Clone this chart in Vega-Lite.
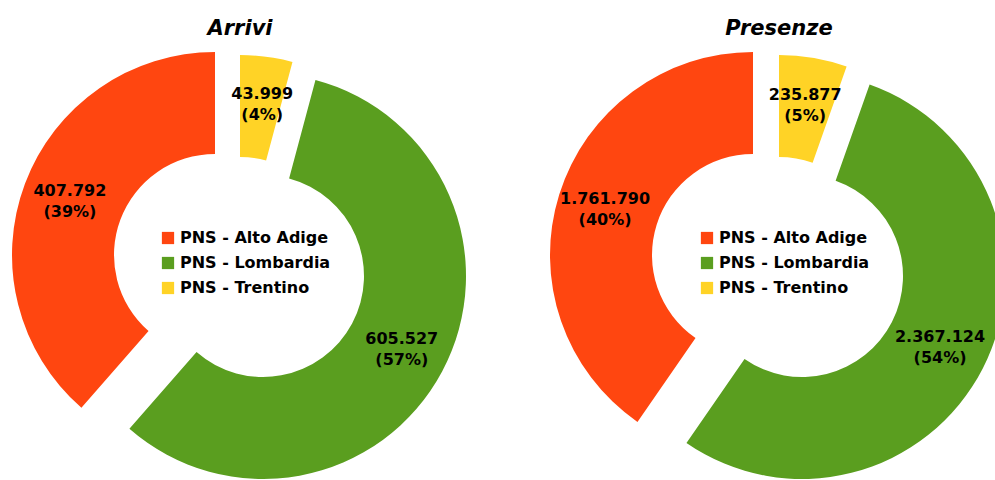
{
  "$schema": "https://vega.github.io/schema/vega-lite/v6.json",
  "padding": {"left": 12, "top": 18, "right": 0, "bottom": 0},
  "autosize": {"type": "pad"},
  "bounds": "flush",
  "spacing": 109,
  "background": "#ffffff",
  "datasets": {
    "d": [
      {"chart": "Arrivi", "region": "PNS - Alto Adige", "value": 407792},
      {"chart": "Arrivi", "region": "PNS - Lombardia", "value": 605527},
      {"chart": "Arrivi", "region": "PNS - Trentino", "value": 43999},
      {"chart": "Presenze", "region": "PNS - Alto Adige", "value": 1761790},
      {"chart": "Presenze", "region": "PNS - Lombardia", "value": 2367124},
      {"chart": "Presenze", "region": "PNS - Trentino", "value": 235877}
    ]
  },
  "config": {
    "locale": {"number": {"decimal": ",", "thousands": ".", "grouping": [3], "currency": ["", " €"]}},
    "view": {"stroke": null},
    "title": {"font": "DejaVu Sans", "fontSize": 21, "fontWeight": "bold", "fontStyle": "italic", "color": "#000000", "offset": 9, "anchor": "middle"},
    "text": {"font": "DejaVu Sans", "fontSize": 16, "fontWeight": "bold", "lineHeight": 21, "align": "center", "baseline": "middle", "dy": -10},
    "legend": {"orient": "none", "legendX": 135, "legendY": 182, "title": null, "symbolType": "square", "symbolSize": 150, "symbolStrokeWidth": 0, "symbolOpacity": 1, "labelFont": "DejaVu Sans", "labelFontSize": 16, "labelFontWeight": "bold", "labelColor": "#000000", "rowPadding": 9, "labelOffset": 4, "padding": 0}
  },
  "resolve": {"scale": {"theta": "independent", "color": "independent"}, "legend": {"color": "independent"}},
  "hconcat": [
    {
      "width": 430, "height": 428,
      "title": "Arrivi",
      "data": {"name": "d"},
      "transform": [
        {"filter": "datum.chart == 'Arrivi'"},
        {"joinaggregate": [{"op": "sum", "field": "value", "as": "total"}]},
        {"calculate": "[format(datum.value, ',d'), '(' + format(datum.value / datum.total, '.0%') + ')']", "as": "label"}
      ],
      "encoding": {
        "theta": {"field": "value", "type": "quantitative", "stack": true},
        "order": {"field": "region", "sort": "descending"},
        "color": {"field": "region", "type": "nominal", "scale": {"domain": ["PNS - Alto Adige", "PNS - Lombardia", "PNS - Trentino"], "range": ["#FF4610", "#5A9E1F", "#FFD326"]}}
      },
      "layer": [
        {"mark": {"type": "arc", "radius": 203, "innerRadius": 101, "xOffset": -25, "yOffset": -7}, "encoding": {"opacity": {"condition": {"test": "datum.region == 'PNS - Alto Adige'", "value": 1}, "value": 0}}},
        {"mark": {"type": "arc", "radius": 203, "innerRadius": 101, "xOffset": 23, "yOffset": 14}, "encoding": {"opacity": {"condition": {"test": "datum.region == 'PNS - Lombardia'", "value": 1}, "value": 0}}},
        {"mark": {"type": "arc", "radius": 203, "innerRadius": 101, "xOffset": 0, "yOffset": -4}, "encoding": {"opacity": {"condition": {"test": "datum.region == 'PNS - Trentino'", "value": 1}, "value": 0}}},
        {"mark": {"type": "text", "radius": 155, "xOffset": -25, "yOffset": -7}, "encoding": {"text": {"field": "label"}, "color": {"value": "#000000"}, "opacity": {"condition": {"test": "datum.region == 'PNS - Alto Adige'", "value": 1}, "value": 0}}},
        {"mark": {"type": "text", "radius": 155, "xOffset": 25, "yOffset": 14}, "encoding": {"text": {"field": "label"}, "color": {"value": "#000000"}, "opacity": {"condition": {"test": "datum.region == 'PNS - Lombardia'", "value": 1}, "value": 0}}},
        {"mark": {"type": "text", "radius": 155, "xOffset": 2, "yOffset": -4}, "encoding": {"text": {"field": "label"}, "color": {"value": "#000000"}, "opacity": {"condition": {"test": "datum.region == 'PNS - Trentino'", "value": 1}, "value": 0}}}
      ]
    },
    {
      "width": 430, "height": 428,
      "title": "Presenze",
      "data": {"name": "d"},
      "transform": [
        {"filter": "datum.chart == 'Presenze'"},
        {"joinaggregate": [{"op": "sum", "field": "value", "as": "total"}]},
        {"calculate": "[format(datum.value, ',d'), '(' + format(datum.value / datum.total, '.0%') + ')']", "as": "label"}
      ],
      "encoding": {
        "theta": {"field": "value", "type": "quantitative", "stack": true},
        "order": {"field": "region", "sort": "descending"},
        "color": {"field": "region", "type": "nominal", "scale": {"domain": ["PNS - Alto Adige", "PNS - Lombardia", "PNS - Trentino"], "range": ["#FF4610", "#5A9E1F", "#FFD326"]}}
      },
      "layer": [
        {"mark": {"type": "arc", "radius": 203, "innerRadius": 101, "xOffset": -26, "yOffset": -7}, "encoding": {"opacity": {"condition": {"test": "datum.region == 'PNS - Alto Adige'", "value": 1}, "value": 0}}},
        {"mark": {"type": "arc", "radius": 203, "innerRadius": 101, "xOffset": 23, "yOffset": 14}, "encoding": {"opacity": {"condition": {"test": "datum.region == 'PNS - Lombardia'", "value": 1}, "value": 0}}},
        {"mark": {"type": "arc", "radius": 203, "innerRadius": 101, "xOffset": 0, "yOffset": -4}, "encoding": {"opacity": {"condition": {"test": "datum.region == 'PNS - Trentino'", "value": 1}, "value": 0}}},
        {"mark": {"type": "text", "radius": 155, "xOffset": -26, "yOffset": -7}, "encoding": {"text": {"field": "label"}, "color": {"value": "#000000"}, "opacity": {"condition": {"test": "datum.region == 'PNS - Alto Adige'", "value": 1}, "value": 0}}},
        {"mark": {"type": "text", "radius": 155, "xOffset": 23, "yOffset": 14}, "encoding": {"text": {"field": "label"}, "color": {"value": "#000000"}, "opacity": {"condition": {"test": "datum.region == 'PNS - Lombardia'", "value": 1}, "value": 0}}},
        {"mark": {"type": "text", "radius": 155, "xOffset": 0, "yOffset": -4}, "encoding": {"text": {"field": "label"}, "color": {"value": "#000000"}, "opacity": {"condition": {"test": "datum.region == 'PNS - Trentino'", "value": 1}, "value": 0}}}
      ]
    }
  ]
}
